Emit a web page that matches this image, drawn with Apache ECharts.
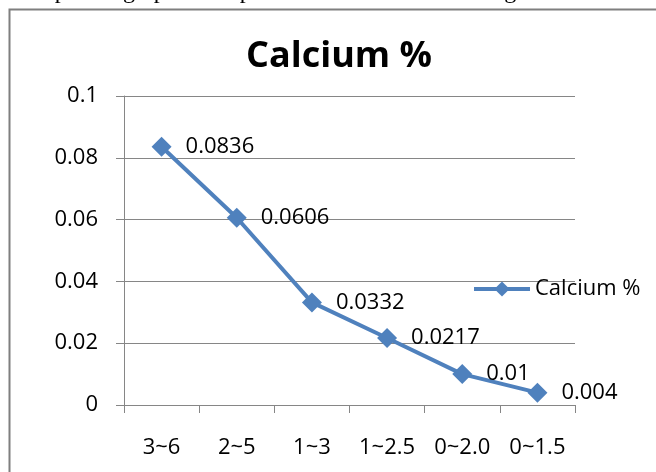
<!DOCTYPE html>
<html>
<head>
<meta charset="utf-8">
<script src="https://cdn.jsdelivr.net/npm/echarts@6/dist/echarts.min.js"></script>
<style>
  html, body { margin: 0; padding: 0; background: #fff; }
  #chart { width: 656px; height: 472px; }
</style>
</head>
<body>
<div id="chart"></div>
<script>
// values
const categories = ['3~6', '2~5', '1~3', '1~2.5', '0~2.0', '0~1.5'];
const calcium = [0.0836, 0.0606, 0.0332, 0.0217, 0.01, 0.004];
const seriesName = 'Calcium %';

const FONT = '"Open Sans", sans-serif';
const BLUE = '#4f81bd';
const GRID_GRAY = '#868686';

// words of the document line cut off above the chart (justified, so placed one by one)
const pageWords = [['sample', 16], ['graphical', 123], ['representation', 221], ['is', 395], ['following', 423]];

const chart = echarts.init(document.getElementById('chart'), null, { renderer: 'canvas' });

const pageText = pageWords.map(([w, x]) => ({
    type: 'text',
    x: x, y: -8,
    style: {
        text: w,
        font: '24px "Liberation Serif", serif',
        fill: '#000',
        verticalAlign: 'middle',
    },
    silent: true,
}));

chart.setOption({
    animation: false,
    backgroundColor: '#fff',
    title: {
        text: 'Calcium %',
        left: 334,
        top: 34,
        textAlign: 'center',
        textStyle: { fontFamily: FONT, fontWeight: 'bold', fontSize: 36, color: '#000' },
    },
    legend: {
        data: [seriesName],
        left: 467,
        top: 273,
        itemWidth: 56,
        itemHeight: 19,   // line series legend symbol is 80% of this
        itemGap: 5,
        lineStyle: { width: 4, color: BLUE },
        itemStyle: { color: BLUE },
        textStyle: { fontFamily: FONT, fontSize: 22, color: '#000' },
    },
    grid: { left: 124, right: 81, top: 96, bottom: 67, containLabel: false },
    xAxis: {
        type: 'category',
        data: categories,
        boundaryGap: true,
        axisLine: { lineStyle: { color: GRID_GRAY, width: 1 } },
        axisTick: { show: true, interval: 0, length: 8, lineStyle: { color: GRID_GRAY } },
        axisLabel: { margin: 32, fontFamily: FONT, fontSize: 22, color: '#000', interval: 0 },
        splitLine: { show: false },
    },
    yAxis: {
        type: 'value',
        min: 0,
        max: 0.1,
        interval: 0.02,
        axisLine: { show: true, lineStyle: { color: GRID_GRAY, width: 1 } },
        axisTick: { show: true, length: 8, lineStyle: { color: GRID_GRAY } },
        axisLabel: { margin: 26, fontFamily: FONT, fontSize: 22, color: '#000' },
        splitLine: { show: true, lineStyle: { color: GRID_GRAY, width: 1 } },
    },
    series: [{
        name: seriesName,
        type: 'line',
        data: calcium,
        symbol: 'diamond',
        symbolSize: 20,
        lineStyle: { color: BLUE, width: 4 },
        itemStyle: { color: BLUE },
        label: {
            show: true,
            position: 'right',
            distance: 14,
            fontFamily: FONT,
            fontSize: 22,
            color: '#000',
        },
    }],
    graphic: [
        {
            // chart frame, runs off the right and bottom edge
            type: 'rect',
            left: 7, top: 7,
            shape: { width: 800, height: 600 },
            style: { fill: 'none', stroke: '#7f7f7f', lineWidth: 2 },
            silent: true,
        },
    ].concat(pageText),
});
</script>
</body>
</html>
